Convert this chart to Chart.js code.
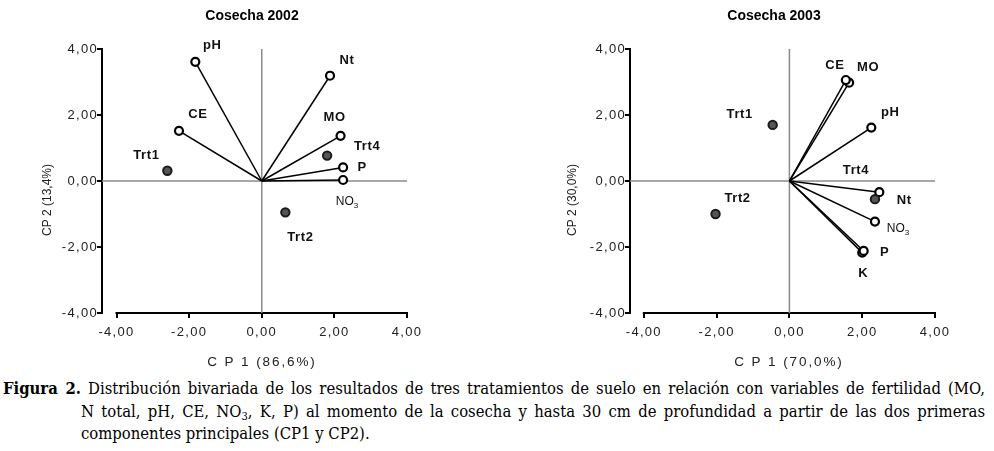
<!DOCTYPE html>
<html>
<head>
<meta charset="utf-8">
<script src="https://cdn.jsdelivr.net/npm/chart.js@4.4.1/dist/chart.umd.min.js"></script>
<style>
  body { margin: 0; background: #fff; width: 994px; height: 451px; position: relative; overflow: hidden; }
  canvas { position: absolute; top: 0; }
  #c02 { left: 0; }
  #c03 { left: 528px; }
  #cap { position: absolute; left: 3px; top: 378px; width: 982px;
         font-family: "DejaVu Serif Condensed", "DejaVu Serif", "Liberation Serif", serif;
         font-size: 16.5px; line-height: 22.5px; color: #000; }
  #cap .j { text-align: justify; text-align-last: justify; }
  #cap .i { padding-left: 78px; }
  #cap sub { font-size: 11px; line-height: 0; vertical-align: -3px; }
</style>
</head>
<body>
<canvas id="c02" width="497" height="375"></canvas>
<canvas id="c03" width="466" height="375"></canvas>
<div id="cap">
  <div class="l j"><b>Figura 2.</b> Distribución bivariada de los resultados de tres tratamientos de suelo en relación con variables de fertilidad (MO,</div>
  <div class="l j i">N total, pH, CE, NO<sub>3</sub>, K, P) al momento de la cosecha y hasta 30 cm de profundidad a partir de las dos primeras</div>
  <div class="l i">componentes principales (CP1 y CP2).</div>
</div>
<script>
Chart.defaults.font.family = "'Liberation Sans', Arial, sans-serif";
Chart.defaults.color = '#222';

const axisTicks = [-4, -2, 0, 2, 4];

// Cosecha 2002
const vars02 = ['pH', 'Nt', 'CE', 'MO', 'P', 'NO3'];
const varX02 = [-1.83, 1.88, -2.28, 2.17, 2.24, 2.24];
const varY02 = [3.61, 3.19, 1.52, 1.37, 0.41, 0.03];
const trt02 = ['Trt1', 'Trt2', 'Trt4'];
const trtX02 = [-2.60, 0.65, 1.80];
const trtY02 = [0.31, -0.95, 0.77];

// Cosecha 2003
const vars03 = ['CE', 'MO', 'pH', 'Nt', 'NO3', 'P', 'K'];
const varX03 = [1.55, 1.64, 2.25, 2.47, 2.35, 2.04, 2.00];
const varY03 = [3.06, 2.98, 1.62, -0.34, -1.23, -2.12, -2.17];
const trt03 = ['Trt1', 'Trt2', 'Trt4'];
const trtX03 = [-0.46, -2.03, 2.35];
const trtY03 = [1.70, -1.00, -0.55];

// label offsets from the point, in px
const varOff02 = [[17, -16], [17, -15], [19, -16], [-6, -18], [19, 0], [4, 22]];
const trtOff02 = [[-21, -15], [15, 25], [40, -9]];
const varOff03 = [[-11, -15], [19, -15], [19, -15], [25, 8], [23, 7], [21, 1], [1, 21]];
const trtOff03 = [[-33, -10], [22, -16], [-19, -29]];

const fmt = v => v.toFixed(2).replace('.', ',');

const panelText = {
    id: 'panelText',
    beforeDraw(chart) {
        chart.ctx.letterSpacing = '1.3px';
    },
    beforeDatasetsDraw(chart) {
        const { ctx, chartArea, scales: { x } } = chart;
        ctx.save();
        ctx.strokeStyle = '#000';
        ctx.lineWidth = 2;
        ctx.beginPath();
        ctx.moveTo(x.getPixelForValue(-4) - 1, chartArea.bottom);
        ctx.lineTo(x.getPixelForValue(4) + 1, chartArea.bottom);
        ctx.stroke();
        ctx.restore();
    },
    afterDatasetsDraw(chart, args, opts) {
        const { ctx, scales: { x, y } } = chart;
        ctx.save();
        ctx.fillStyle = '#111';
        ctx.textAlign = 'center';
        ctx.textBaseline = 'middle';
        opts.labels.forEach(l => {
            const px = x.getPixelForValue(l.x) + l.dx;
            const py = y.getPixelForValue(l.y) + l.dy;
            if (l.text === 'NO3') {
                ctx.letterSpacing = '0px';
                ctx.font = "12px 'Liberation Sans', Arial";
                const w1 = ctx.measureText('NO').width;
                ctx.font = "8px 'Liberation Sans', Arial";
                const w2 = ctx.measureText('3').width;
                const sx = px - (w1 + w2) / 2;
                ctx.textAlign = 'left';
                ctx.font = "12px 'Liberation Sans', Arial";
                ctx.fillText('NO', sx, py);
                ctx.font = "8px 'Liberation Sans', Arial";
                ctx.fillText('3', sx + w1, py + 4);
                ctx.textAlign = 'center';
            } else {
                ctx.letterSpacing = '0.6px';
                ctx.font = "bold 13px 'Liberation Sans', Arial";
                ctx.fillText(l.text, px, py);
            }
        });

        // panel title
        ctx.letterSpacing = '0px';
        ctx.fillStyle = '#000';
        ctx.font = "bold 14px 'Liberation Sans', Arial";
        ctx.fillText(opts.title, opts.titlePos[0], opts.titlePos[1]);

        // x title
        ctx.fillStyle = '#222';
        ctx.letterSpacing = '1.9px';
        ctx.font = "13.5px 'Liberation Sans', Arial";
        ctx.fillText(opts.xTitle, opts.xTitlePos[0], opts.xTitlePos[1]);

        // y title
        ctx.letterSpacing = '0px';
        ctx.font = "12px 'Liberation Sans', Arial";
        ctx.translate(opts.yTitlePos[0], opts.yTitlePos[1]);
        ctx.rotate(-Math.PI / 2);
        ctx.fillText(opts.yTitle, 0, 0);
        ctx.restore();
    }
};

function makePanel(id, p) {
    const datasets = [];
    p.vars.forEach((name, i) => {
        datasets.push({
            data: [{ x: 0, y: 0 }, { x: p.vx[i], y: p.vy[i] }],
            showLine: true,
            borderColor: '#000',
            borderWidth: 1.5,
            pointRadius: [0, 4],
            pointBorderWidth: 2.2,
            pointBorderColor: '#000',
            pointBackgroundColor: '#fff',
            order: 2
        });
    });
    datasets.push({
        data: p.tx.map((v, i) => ({ x: v, y: p.ty[i] })),
        pointRadius: 4.2,
        pointBorderWidth: 2,
        pointBorderColor: '#1a1a1a',
        pointBackgroundColor: '#555',
        order: 0
    });
    // zero reference lines
    datasets.push({
        data: [{ x: 0, y: -4 }, { x: 0, y: 4 }],
        showLine: true, borderColor: '#8a8a8a', borderWidth: 1.5, pointRadius: 0, order: 10
    });
    datasets.push({
        data: [{ x: p.xMin, y: 0 }, { x: 4, y: 0 }],
        showLine: true, borderColor: '#8a8a8a', borderWidth: 1.5, pointRadius: 0, order: 10
    });

    const labels = [];
    p.vars.forEach((t, i) => labels.push({ text: t, x: p.vx[i], y: p.vy[i], dx: p.vOff[i][0], dy: p.vOff[i][1] }));
    p.trt.forEach((t, i) => labels.push({ text: t, x: p.tx[i], y: p.ty[i], dx: p.tOff[i][0], dy: p.tOff[i][1] }));

    const canvas = document.getElementById(id);
    return new Chart(canvas, {
        type: 'scatter',
        data: { datasets },
        plugins: [panelText],
        options: {
            responsive: false,
            animation: false,
            layout: { padding: { top: 49, left: 0, right: canvas.width - 407, bottom: 0 } },
            scales: {
                x: {
                    type: 'linear',
                    min: p.xMin,
                    max: 4,
                    afterFit: s => { s.height = 62; },
                    afterBuildTicks: s => { s.ticks = axisTicks.map(v => ({ value: v })); },
                    border: { display: false },
                    grid: { drawOnChartArea: false, drawTicks: true, tickLength: 5, color: '#000', lineWidth: 2 },
                    ticks: { padding: 7, font: { size: 13 }, color: '#222', callback: v => fmt(v) }
                },
                y: {
                    type: 'linear',
                    min: -4,
                    max: 4,
                    afterFit: s => { s.width = 102; },
                    afterBuildTicks: s => { s.ticks = axisTicks.map(v => ({ value: v })); },
                    border: { display: true, color: '#000', width: 2 },
                    grid: { drawOnChartArea: false, drawTicks: true, tickLength: 5, color: '#000', lineWidth: 2 },
                    ticks: { padding: -1, font: { size: 13 }, color: '#222', callback: v => fmt(v) }
                }
            },
            plugins: {
                legend: { display: false },
                tooltip: { enabled: false },
                panelText: {
                    labels,
                    title: p.title, titlePos: p.titlePos,
                    xTitle: p.xTitle, xTitlePos: p.xTitlePos,
                    yTitle: p.yTitle, yTitlePos: p.yTitlePos
                }
            }
        }
    });
}

makePanel('c02', {
    vars: vars02, vx: varX02, vy: varY02, vOff: varOff02,
    trt: trt02, tx: trtX02, ty: trtY02, tOff: trtOff02,
    xMin: -4.40,
    title: 'Cosecha 2002', titlePos: [252, 16],
    xTitle: 'C P 1 (86,6%)', xTitlePos: [262, 362],
    yTitle: 'CP 2 (13,4%)', yTitlePos: [48, 200]
});

makePanel('c03', {
    vars: vars03, vx: varX03, vy: varY03, vOff: varOff03,
    trt: trt03, tx: trtX03, ty: trtY03, tOff: trtOff03,
    xMin: -4.38,
    title: 'Cosecha 2003', titlePos: [246, 16],
    xTitle: 'C P 1 (70,0%)', xTitlePos: [261, 362],
    yTitle: 'CP 2 (30,0%)', yTitlePos: [45, 200]
});
</script>
</body>
</html>
